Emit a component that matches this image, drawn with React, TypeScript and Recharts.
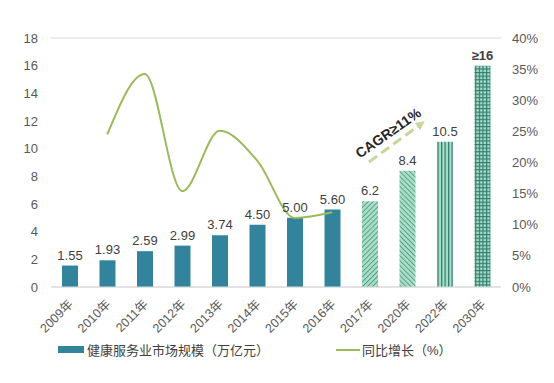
import React from 'react';
import {
  ComposedChart,
  Bar,
  Line,
  XAxis,
  YAxis,
  CartesianGrid,
  Cell,
  LabelList,
} from 'recharts';

// categories + series
const years = ['2009年', '2010年', '2011年', '2012年', '2013年', '2014年', '2015年', '2016年', '2017年', '2020年', '2022年', '2030年'];
const marketSize = [1.55, 1.93, 2.59, 2.99, 3.74, 4.5, 5.0, 5.6, 6.2, 8.4, 10.5, 16];
const sizeLabels = ['1.55', '1.93', '2.59', '2.99', '3.74', '4.50', '5.00', '5.60', '6.2', '8.4', '10.5', '≥16'];
const growth = [null, 24.5, 34.2, 15.4, 25.1, 20.3, 11.1, 12.0, null, null, null, null];

const leftTicks = [0, 2, 4, 6, 8, 10, 12, 14, 16, 18];
const rightTicks = [0, 5, 10, 15, 20, 25, 30, 35, 40];

const barName = '健康服务业市场规模（万亿元）';
const lineName = '同比增长（%）';
const cagrText = 'CAGR≥11%';

const data = years.map((year, i) => ({
  year,
  size: marketSize[i],
  label: sizeLabels[i],
  growth: growth[i],
}));

const TEAL = '#31849b';
const MINT = '#a8dec6';
const HATCH = '#2a7a6c';
const fills = [TEAL, TEAL, TEAL, TEAL, TEAL, TEAL, TEAL, TEAL, 'url(#p2017)', 'url(#p2020)', 'url(#p2022)', 'url(#p2030)'];

const font = '"Liberation Sans", Arial, "Noto Sans CJK SC", sans-serif';

const XTick = (props: any) => {
  const { x, y, payload } = props;
  return (
    <g transform={`translate(${x + 4},${y + 10})`}>
      <text transform="rotate(-45)" textAnchor="end" fill="#595959" fontSize={12.5}>
        {payload.value}
      </text>
    </g>
  );
};

const BarLabel = (props: any) => {
  const { x, y, width, value } = props;
  const bold = String(value).startsWith('≥');
  return (
    <text
      x={x + width / 2}
      y={y - 6}
      textAnchor="middle"
      fill="#404040"
      fontSize={13}
      fontWeight={bold ? 'bold' : 'normal'}
    >
      {value}
    </text>
  );
};

export default function App() {
  return (
    <div style={{ position: 'absolute', left: 0, top: 0, width: 554, height: 383, background: '#fff', fontFamily: font }}>
      <ComposedChart width={554} height={383} data={data} margin={{ top: 38, right: 0, left: 0, bottom: 40 }}>
        <defs>
          <pattern id="p2017" patternUnits="userSpaceOnUse" width="3.5" height="3.5" patternTransform="rotate(45)">
            <rect width="3.5" height="3.5" fill={MINT} />
            <line x1="0" y1="0" x2="0" y2="3.5" stroke={HATCH} strokeWidth="1.2" />
          </pattern>
          <pattern id="p2020" patternUnits="userSpaceOnUse" width="3.5" height="3.5" patternTransform="rotate(-45)">
            <rect width="3.5" height="3.5" fill={MINT} />
            <line x1="0" y1="0" x2="0" y2="3.5" stroke={HATCH} strokeWidth="1.2" />
          </pattern>
          <pattern id="p2022" patternUnits="userSpaceOnUse" width="3.5" height="4">
            <rect width="3.5" height="4" fill={MINT} />
            <line x1="0.6" y1="0" x2="0.6" y2="4" stroke={HATCH} strokeWidth="1.2" />
          </pattern>
          <pattern id="p2030" patternUnits="userSpaceOnUse" width="3.6" height="3.6">
            <rect width="3.6" height="3.6" fill={MINT} />
            <line x1="0.6" y1="0" x2="0.6" y2="3.6" stroke={HATCH} strokeWidth="1.1" />
            <line x1="0" y1="0.6" x2="3.6" y2="0.6" stroke={HATCH} strokeWidth="1.1" />
          </pattern>
        </defs>
        <CartesianGrid stroke="#d9d9d9" vertical={false} />
        <XAxis
          dataKey="year"
          interval={0}
          height={56}
          tickLine={false}
          axisLine={{ stroke: '#d9d9d9' }}
          tick={<XTick />}
        />
        <YAxis
          yAxisId="left"
          width={51}
          domain={[0, 18]}
          ticks={leftTicks}
          axisLine={false}
          tickLine={false}
          tickSize={0}
          tickMargin={13}
          tick={{ fill: '#595959', fontSize: 13 }}
        />
        <YAxis
          yAxisId="right"
          orientation="right"
          width={53}
          domain={[0, 40]}
          ticks={rightTicks}
          axisLine={false}
          tickLine={false}
          tickSize={0}
          tickMargin={11}
          tickFormatter={(v) => `${v}%`}
          tick={{ fill: '#595959', fontSize: 13 }}
        />
        <Bar yAxisId="left" dataKey="size" barSize={16} isAnimationActive={false}>
          {data.map((d, i) => (
            <Cell key={d.year} fill={fills[i]} />
          ))}
          <LabelList dataKey="label" content={<BarLabel />} />
        </Bar>
        <Line
          yAxisId="right"
          type="monotone"
          dataKey="growth"
          stroke="#9bbb59"
          strokeWidth={2}
          dot={false}
          activeDot={false}
          isAnimationActive={false}
        />
      </ComposedChart>

      {/* CAGR annotation */}
      <svg width={554} height={383} style={{ position: 'absolute', left: 0, top: 0, pointerEvents: 'none' }}>
        <defs>
          <marker id="cagrArrow" markerWidth="3" markerHeight="3" refX="1.5" refY="1.5" orient="auto">
            <path d="M0,0 L3,1.5 L0,3 z" fill="#c4d79b" />
          </marker>
        </defs>
        <line
          x1={369}
          y1={162}
          x2={421}
          y2={124}
          stroke="#c4d79b"
          strokeWidth={3}
          strokeDasharray="10 5"
          markerEnd="url(#cagrArrow)"
        />
        <text
          x={391}
          y={137}
          transform="rotate(-35 391 137)"
          textAnchor="middle"
          fontSize={14}
          fontWeight="bold"
          fill="#262626"
        >
          {cagrText}
        </text>
      </svg>

      {/* legend */}
      <div style={{ position: 'absolute', left: 58, top: 340, display: 'flex', alignItems: 'center', fontSize: 13, color: '#404040' }}>
        <span style={{ display: 'inline-block', width: 26, height: 7, background: TEAL, marginRight: 3 }} />
        <span>{barName}</span>
      </div>
      <div style={{ position: 'absolute', left: 336, top: 340, display: 'flex', alignItems: 'center', fontSize: 13, color: '#404040' }}>
        <span style={{ display: 'inline-block', width: 24, height: 2, background: '#9bbb59', marginRight: 2 }} />
        <span>{lineName}</span>
      </div>
    </div>
  );
}
